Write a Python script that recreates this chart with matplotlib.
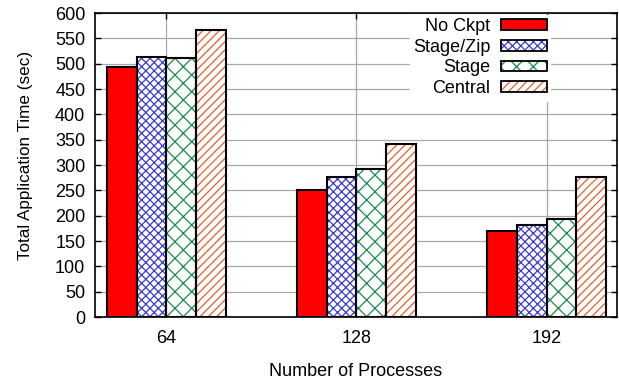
import numpy as np
from matplotlib import pyplot as plt
from matplotlib.patches import Rectangle

plt.rcParams['font.family'] = ['Liberation Sans', 'DejaVu Sans']
plt.rcParams['hatch.linewidth'] = 0.9

# total application time (sec) per process count
procs = ['64', '128', '192']
series = ['No Ckpt', 'Stage/Zip', 'Stage', 'Central']
no_ckpt = [493, 250, 170]
stage_zip = [513, 277, 182]
stage = [512, 292, 193]
central = [567, 342, 277]

# fill, hatch colour, hatch pattern for each series
styles = [
    ('#ff0000', '#ff0000', None),
    ('white', '#3a3ad0', 'xxxx'),
    ('white', '#1a8a50', 'xx'),
    ('white', '#e0602a', '////'),
]

fs = 13
fig = plt.figure(figsize=(6.19, 3.83), dpi=100)
ax = fig.add_axes([0.1535, 0.1723, 0.8433, 0.7937])

x = np.arange(len(procs))
w = 0.157
handles = []
for i, vals in enumerate([no_ckpt, stage_zip, stage, central]):
    fc, hc, hatch = styles[i]
    pos = x + (i - 1.5) * w
    # hatch in its own colour, then a plain black outline on top
    ax.bar(pos, vals, w, color=fc, edgecolor=hc, hatch=hatch, linewidth=0, zorder=2)
    ax.bar(pos, vals, w, facecolor='none', edgecolor='black', linewidth=1.5, zorder=3)
    h1 = Rectangle((0, 0), 1, 1, facecolor=fc, edgecolor=hc, hatch=hatch, linewidth=0)
    h2 = Rectangle((0, 0), 1, 1, facecolor='none', edgecolor='black', linewidth=1.3)
    handles.append((h1, h2))

ax.set_xlim(-0.376, 2.371)
ax.set_ylim(0, 600)
ax.set_yticks(np.arange(0, 601, 50))
ax.set_xticks(x)
ax.set_xticklabels(procs)
ax.grid(True, color='#a8a8a8', linewidth=0.9, zorder=0)
ax.set_axisbelow(True)
ax.tick_params(axis='both', which='both', direction='in', right=True, top=True,
               labelsize=fs, length=4, width=1)
ax.tick_params(axis='x', pad=9)
ax.tick_params(axis='y', pad=7)
for sp in ax.spines.values():
    sp.set_linewidth(1.2)

ax.set_xlabel('Number of Processes', fontsize=fs, labelpad=12)
ax.set_ylabel('Total Application Time (sec)', fontsize=12.3)
ax.yaxis.set_label_coords(-0.118, 0.53)

leg = ax.legend(handles, series, loc='upper right', bbox_to_anchor=(0.872, 0.995),
                markerfirst=False, frameon=True, fontsize=fs, handlelength=2.55,
                handleheight=0.55, labelspacing=0.2, borderpad=0.2, handletextpad=0.55,
                borderaxespad=0.0, fancybox=False)
leg.get_frame().set_edgecolor('white')
leg.get_frame().set_alpha(1.0)
leg.set_zorder(5)

fig.savefig('out.png', dpi=100)
